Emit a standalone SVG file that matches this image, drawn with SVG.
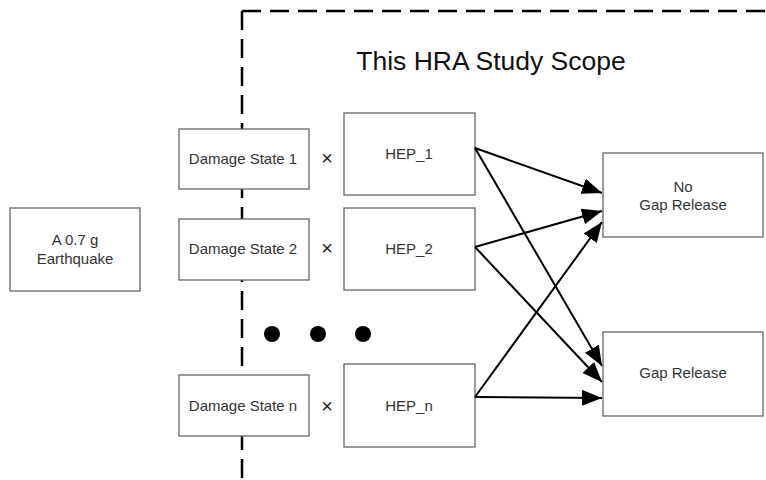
<svg xmlns="http://www.w3.org/2000/svg" width="766" height="480" viewBox="0 0 766 480">
<style>
.box{fill:#fff;stroke:#666;stroke-width:1.3}
.lbl{font-family:"Liberation Sans",Arial,sans-serif;font-size:15px;fill:#333;text-anchor:middle}
.x{font-family:"Liberation Sans",Arial,sans-serif;font-size:20px;fill:#222;text-anchor:middle}
.title{font-family:"Liberation Sans",Arial,sans-serif;font-size:26.5px;fill:#111;text-anchor:middle}
.scope{fill:none;stroke:#000;stroke-width:2.5;stroke-dasharray:19 9}
.conn{stroke:#000;stroke-width:2;fill:none}
</style>
<defs>
<marker id="ah" markerUnits="userSpaceOnUse" markerWidth="22" markerHeight="18" refX="20" refY="8" orient="auto">
<path d="M0,0 L20,8 L0,16 z" fill="#000"/>
</marker>
</defs>
<g id="scope">
<path class="scope" d="M242,11 L766,11"/>
<path class="scope" d="M242,11 L242,480"/>
<text class="title" x="491" y="70">This HRA Study Scope</text>
</g>
<g id="earthquake">
<rect class="box" x="10" y="208" width="130" height="83"/>
<text class="lbl" x="75" y="245">A 0.7 g</text>
<text class="lbl" x="75" y="264">Earthquake</text>
</g>
<g id="ds1">
<rect class="box" x="179" y="129" width="130" height="60"/>
<text class="lbl" x="243" y="164">Damage State 1</text>
</g>
<g id="ds2">
<rect class="box" x="179" y="219" width="130" height="61"/>
<text class="lbl" x="243" y="254">Damage State 2</text>
</g>
<g id="dsn">
<rect class="box" x="179" y="375" width="130" height="61"/>
<text class="lbl" x="243" y="411">Damage State n</text>
</g>
<g id="times">
<text class="x" x="327" y="165">×</text>
<text class="x" x="327" y="255">×</text>
<text class="x" x="327" y="413">×</text>
</g>
<g id="hep1">
<rect class="box" x="344" y="113" width="131" height="82"/>
<text class="lbl" x="409" y="159">HEP_1</text>
</g>
<g id="hep2">
<rect class="box" x="344" y="208" width="131" height="82"/>
<text class="lbl" x="409" y="254">HEP_2</text>
</g>
<g id="hepn">
<rect class="box" x="344" y="364" width="131" height="83"/>
<text class="lbl" x="409" y="411">HEP_n</text>
</g>
<g id="dots">
<circle cx="272" cy="334" r="8" fill="#000"/>
<circle cx="318" cy="334" r="8" fill="#000"/>
<circle cx="363" cy="334" r="8" fill="#000"/>
</g>
<g id="nogap">
<rect class="box" x="603" y="153" width="160" height="84"/>
<text class="lbl" x="683" y="192">No</text>
<text class="lbl" x="683" y="210">Gap Release</text>
</g>
<g id="gap">
<rect class="box" x="603" y="332" width="160" height="84"/>
<text class="lbl" x="683" y="378">Gap Release</text>
</g>
<g id="connectors">
<line class="conn" x1="475" y1="148" x2="602" y2="193" marker-end="url(#ah)"/>
<line class="conn" x1="475" y1="148" x2="602" y2="366" marker-end="url(#ah)"/>
<line class="conn" x1="475" y1="247" x2="602" y2="211" marker-end="url(#ah)"/>
<line class="conn" x1="475" y1="247" x2="602" y2="382" marker-end="url(#ah)"/>
<line class="conn" x1="475" y1="397" x2="602" y2="222" marker-end="url(#ah)"/>
<line class="conn" x1="475" y1="397" x2="602" y2="398" marker-end="url(#ah)"/>
</g>
</svg>
